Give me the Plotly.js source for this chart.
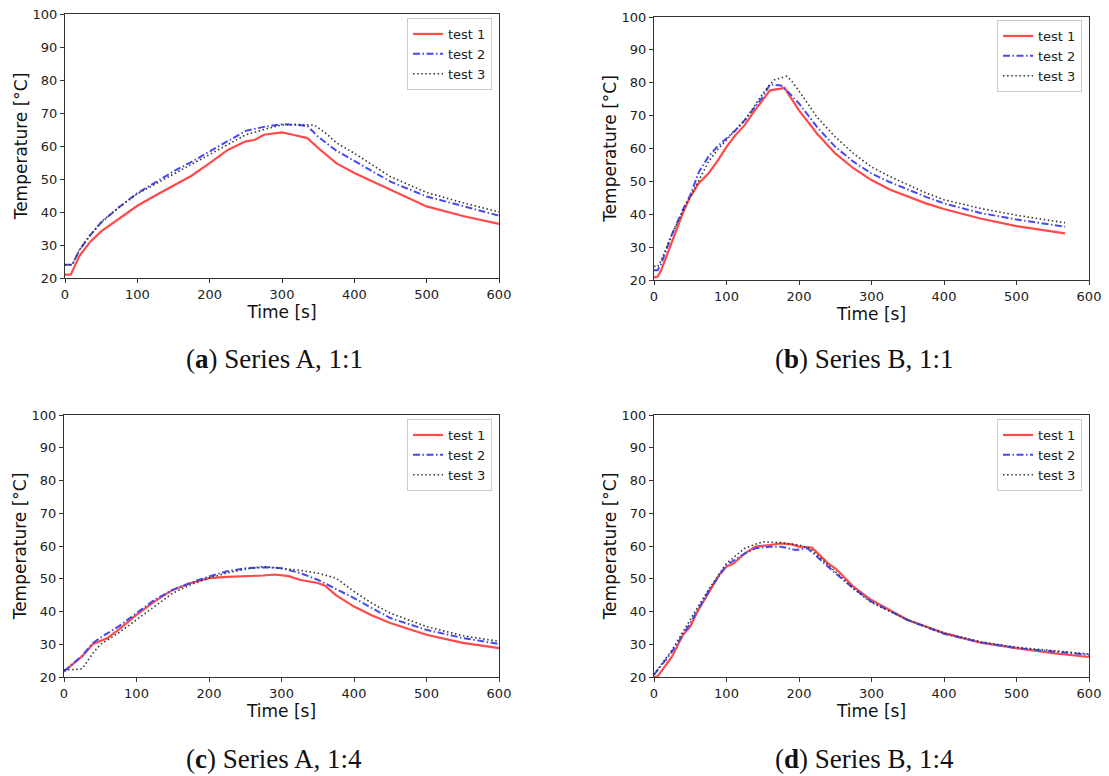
<!DOCTYPE html>
<html>
<head>
<meta charset="utf-8">
<script src="https://cdn.plot.ly/plotly-3.0.1.min.js"></script>
<style>html,body{margin:0;padding:0;background:#fff;}#chart{width:1109px;height:776px;}</style>
</head>
<body>
<div id="chart"></div>
<script>
// ---- Data ----
const seriesNames = ["test 1", "test 2", "test 3"];
const captions = ["<b>a</b>", "<b>b</b>", "<b>c</b>", "<b>d</b>"];
const captionTexts = ["Series A, 1:1", "Series B, 1:1", "Series A, 1:4", "Series B, 1:4"];
const xTitle = "Time [s]";
const yTitle = "Temperature [°C]";

// (a) Series A, 1:1
const A1_time = [0,8,20,35,50,75,100,125,150,175,200,225,250,262,275,300,315,335,350,375,400,450,500,550,600];
const A1_temp = [21,21,26.7,31,34.1,38,41.9,45,48,51,54.8,58.8,61.4,61.8,63.4,64.1,63.4,62.4,59.4,54.8,51.8,46.7,41.7,38.8,36.4];
const A2_time = [0,10,20,35,50,75,100,125,150,175,200,225,250,275,300,320,335,350,375,400,450,500,550,600];
const A2_temp = [24,24,28.5,33,36.8,41.5,45.7,49,52.3,55.2,58.3,61.5,64.6,65.8,66.6,66.4,66.1,62.8,58.6,55.5,49.2,44.7,41.8,38.9];
const A3_time = [0,10,20,35,50,75,100,125,150,175,200,225,250,275,300,325,345,360,375,400,450,500,550,600];
const A3_temp = [24,24,28.5,33,37,41.5,45.5,48.5,51.3,54.5,57.5,60.5,63.4,65,66.4,66.5,66.3,64,61,57.8,50.7,45.9,42.8,40];

// (b) Series B, 1:1
const B1_time = [0,5,10,25,40,50,62,75,87,100,112,125,137,150,160,175,180,185,200,225,250,275,300,325,350,375,400,450,500,530,567];
const B1_temp = [20.8,21,23,32,40.5,45.3,49.5,52.4,56,60.5,64,67.1,71,74.7,77.7,78.2,78.5,76.7,71.6,64.5,58.5,54,50.4,47.5,45.3,43.3,41.6,38.7,36.4,35.5,34.2];
const B2_time = [0,5,10,25,40,50,62,75,87,100,112,125,137,150,160,170,175,185,200,225,250,275,300,325,350,375,400,450,500,530,567];
const B2_temp = [23,23,25,34,41.5,45.8,52.9,57.5,60.5,63,65.5,68.6,72,75.7,79.5,79.2,79.2,77.2,73.7,66.5,60.5,56,52.4,49.8,47.5,45.3,43.3,40.4,38.4,37.5,36.2];
const B3_time = [0,5,10,25,40,50,62,75,87,100,112,125,137,150,165,175,183,190,200,225,250,275,300,325,350,375,400,450,500,530,567];
const B3_temp = [24.2,24,26,34,41,45.3,50.5,55.9,59.5,62.7,65.5,68.5,72.5,76.7,80.8,81.6,82,80.5,77.5,69.5,63.5,58.5,54.4,51.5,49,46.5,44.4,41.8,39.7,38.6,37.4];

// (c) Series A, 1:4
const C1_time = [0,25,40,50,60,75,100,125,150,175,200,225,250,275,290,310,325,340,350,360,375,400,425,450,500,550,600];
const C1_temp = [21.7,26.3,30.1,31.1,31.9,34.4,39,43.1,46.6,48.7,50.2,50.6,50.7,51,51.3,50.8,49.7,49,48.7,47.9,45,41.5,38.8,36.5,32.9,30.4,28.8];
const C2_time = [0,25,40,50,75,100,125,150,175,200,225,250,280,300,325,350,375,400,425,450,500,550,600];
const C2_temp = [21.7,26.5,30.4,32,35.4,39.5,43.6,46.6,48.8,50.7,52.3,53.2,53.5,53.2,51.8,49.7,47,44.1,41,38,34.4,31.9,30.1];
const C3_time = [0,10,25,40,50,75,100,125,150,175,200,225,250,275,300,325,350,375,400,425,450,500,550,600];
const C3_temp = [22.2,22.2,22.5,27.3,29.9,33.4,37.5,41.6,45.6,48.2,50.2,51.8,52.9,53.7,53.2,52.6,51.7,50.2,46.1,42.5,39.5,35.4,32.6,30.9];

// (d) Series B, 1:4
const D1_time = [0,5,25,40,50,60,75,90,100,110,125,140,160,175,190,200,218,240,250,275,300,350,400,450,500,550,600];
const D1_temp = [20,20.2,26.3,32.9,35.4,40,45.6,51.2,53.7,54.7,57.7,59.8,60.3,60.8,60.5,59.8,59.5,54.7,53.2,47.6,43.5,37.4,33.4,30.5,28.8,27.3,26.1];
const D2_time = [0,25,50,75,100,125,140,160,175,195,212,225,250,275,300,350,400,450,500,550,600];
const D2_temp = [20.7,27.8,36.4,46.1,54.2,57.7,59.3,59.8,59.8,58.8,59.3,56.7,51.7,47.1,43,37.4,33.2,30.6,28.8,27.8,26.8];
const D3_time = [0,25,50,75,100,125,150,175,200,215,250,275,300,350,400,450,500,550,600];
const D3_temp = [20.7,28.3,37.5,46.6,54.7,59.3,61.3,61,60.3,59.3,52.2,47,42.7,37.4,33.4,30.8,29.1,28,27];

const xTicks = [0,100,200,300,400,500,600];
const yTicks = [20,30,40,50,60,70,80,90,100];

// ---- Build ----
const W = 1109, H = 776;
const panels = [
  {data: [[A1_time,A1_temp],[A2_time,A2_temp],[A3_time,A3_temp]], px:[65,499], py:[14,278], leg:[492,18], cap:[274,359]},
  {data: [[B1_time,B1_temp],[B2_time,B2_temp],[B3_time,B3_temp]], px:[654,1089], py:[17,280], leg:[1082,20], cap:[864,359]},
  {data: [[C1_time,C1_temp],[C2_time,C2_temp],[C3_time,C3_temp]], px:[64,499], py:[415,677], leg:[492,419], cap:[274,759]},
  {data: [[D1_time,D1_temp],[D2_time,D2_temp],[D3_time,D3_temp]], px:[654,1089], py:[415,677], leg:[1082,419], cap:[864,759]}
];
const styles = [
  {color:"#ff4a4a", width:2.2, dash:"solid"},
  {color:"#4848f0", width:2, dash:"7px,2.5px,1.5px,2.5px"},
  {color:"#333333", width:1.6, dash:"1.5px,2.6px"}
];
const font = "DejaVu Sans, sans-serif";
const traces = [];
const layout = {
  width: W, height: H,
  margin: {l:0, r:0, t:0, b:0},
  paper_bgcolor: "#fff", plot_bgcolor: "#fff",
  font: {family: font, size: 13, color: "#222"},
  showlegend: true,
  annotations: []
};
panels.forEach((p, i) => {
  const n = i === 0 ? "" : String(i + 1);
  const legName = "legend" + n;
  p.data.forEach((d, k) => {
    traces.push({
      x: d[0], y: d[1], type: "scatter", mode: "lines",
      name: seriesNames[k], legend: legName,
      xaxis: "x" + n, yaxis: "y" + n,
      line: {color: styles[k].color, width: styles[k].width, dash: styles[k].dash},
      hoverinfo: "skip"
    });
  });
  const axCommon = {
    showline: true, mirror: true, linecolor: "#333", linewidth: 1,
    ticks: "outside", ticklen: 4, tickwidth: 1, tickcolor: "#333",
    showgrid: false, zeroline: false,
    tickfont: {family: font, size: 13, color: "#222"}
  };
  layout["xaxis" + n] = Object.assign({}, axCommon, {
    domain: [p.px[0]/W, p.px[1]/W], range: [0, 600],
    tickmode: "array", tickvals: xTicks, ticktext: xTicks.map(String),
    anchor: "y" + n,
    title: {text: xTitle, font: {family: font, size: 17, color: "#111"}, standoff: 3}
  });
  layout["yaxis" + n] = Object.assign({}, axCommon, {
    domain: [1 - p.py[1]/H, 1 - p.py[0]/H], range: [20, 100],
    tickmode: "array", tickvals: yTicks, ticktext: yTicks.map(String),
    anchor: "x" + n,
    title: {text: yTitle, font: {family: font, size: 17, color: "#111"}, standoff: 0}
  });
  layout[legName] = {
    x: p.leg[0]/W, y: 1 - p.leg[1]/H, xanchor: "right", yanchor: "top",
    bgcolor: "#fff", bordercolor: "#cccccc", borderwidth: 1,
    font: {family: font, size: 13, color: "#222"},
    itemwidth: 30, tracegroupgap: 0
  };
  layout.annotations.push({
    xref: "paper", yref: "paper", x: p.cap[0]/W, y: 1 - p.cap[1]/H,
    xanchor: "center", yanchor: "middle", showarrow: false,
    text: "(" + captions[i] + ") " + captionTexts[i],
    font: {family: "Liberation Serif, serif", size: 27, color: "#111"}
  });
});
Plotly.newPlot("chart", traces, layout, {staticPlot: true, displayModeBar: false});
</script>
</body>
</html>
